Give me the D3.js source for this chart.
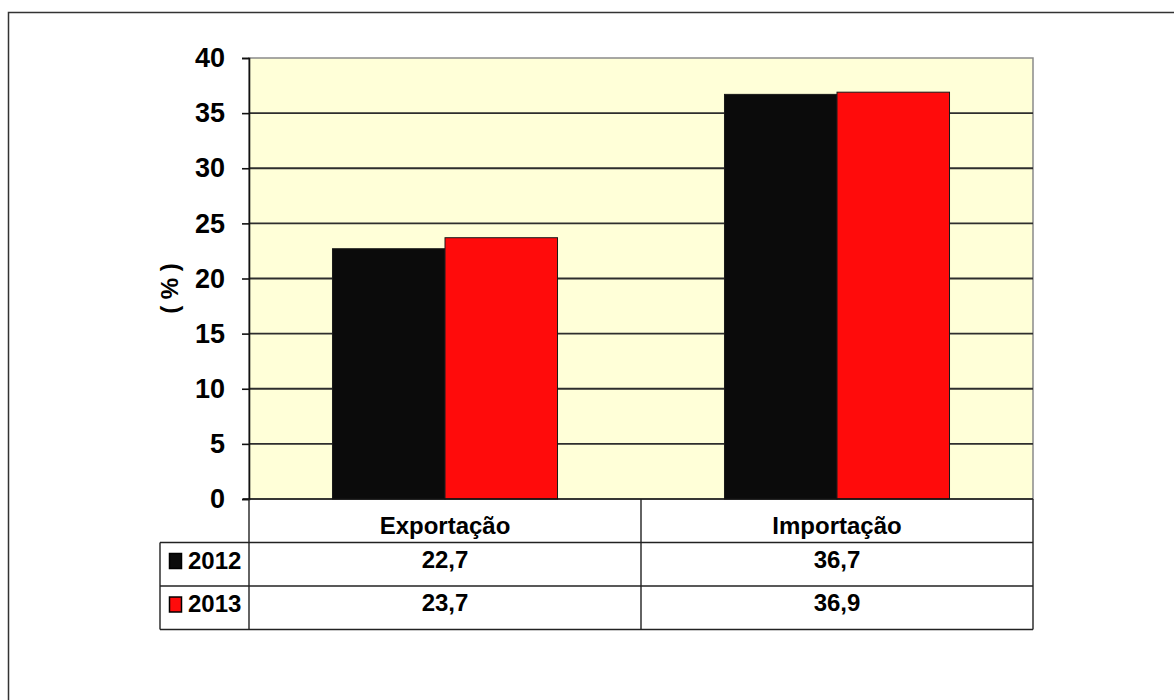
<!DOCTYPE html>
<html>
<head>
<meta charset="utf-8">
<script src="https://cdn.jsdelivr.net/npm/d3@7"></script>
<style>
  body { margin: 0; background: #fff; }
  svg text { font-family: "Liberation Sans", Arial, sans-serif; font-weight: bold; fill: #000; }
</style>
</head>
<body>
<svg width="1174" height="700"></svg>
<script>
// categorias e séries
let categories = ['Exportação', 'Importação']
let years = ['2012', '2013']
let values2012 = [22.7, 36.7]
let values2013 = [23.7, 36.9]
let yTicks = [0, 5, 10, 15, 20, 25, 30, 35, 40]
let colors = ['#0b0b0b', '#ff0b0b']

let series = [values2012, values2013]

let svg = d3.select('svg')
let plotLeft = 249, plotRight = 1033, plotTop = 58, plotBottom = 499
let rowH = 43.5

let ptBR = d3.formatLocale({decimal: ',', thousands: '.', grouping: [3], currency: ['R$', '']})
let fmt = ptBR.format('.1f')

// moldura externa
svg.append('rect')
  .attr('x', 8.5).attr('y', 12.5)
  .attr('width', 1200).attr('height', 720)
  .attr('fill', 'none').attr('stroke', '#333').attr('stroke-width', 1.5)

let x0 = d3.scaleBand().domain(categories).range([plotLeft, plotRight])
let x1 = d3.scaleBand().domain(years).range([0, x0.bandwidth()]).paddingOuter(0.742)
let y = d3.scaleLinear().domain([0, 40]).range([plotBottom, plotTop])

// fundo da área do gráfico
svg.append('rect')
  .attr('x', plotLeft).attr('y', plotTop)
  .attr('width', plotRight - plotLeft).attr('height', plotBottom - plotTop)
  .attr('fill', '#ffffd8').attr('stroke', '#8a8a8a').attr('stroke-width', 1.5)

// linhas de grade
svg.append('g').selectAll('line')
  .data(yTicks.filter(d => d > 0 && d < 40))
  .enter().append('line')
    .attr('x1', plotLeft).attr('x2', plotRight)
    .attr('y1', d => y(d)).attr('y2', d => y(d))
    .attr('stroke', '#2e2e2e').attr('stroke-width', 1.8)

// barras
let groups = svg.append('g').selectAll('g')
  .data(years)
  .enter().append('g')

groups.selectAll('rect')
  .data((yr, i) => categories.map((c, j) => ({cat: c, year: yr, value: series[i][j], i})))
  .enter().append('rect')
    .attr('x', d => x0(d.cat) + x1(d.year))
    .attr('y', d => y(d.value))
    .attr('width', x1.bandwidth())
    .attr('height', d => y(0) - y(d.value))
    .attr('fill', d => colors[d.i])
    .attr('stroke', '#1a1a1a').attr('stroke-width', 1)

// eixo Y
let yAxis = d3.axisLeft(y).tickValues(yTicks).tickSize(7).tickPadding(17)
let ya = svg.append('g')
  .attr('transform', 'translate(' + plotLeft + ',0)')
  .call(yAxis)
ya.select('.domain').attr('stroke', '#111').attr('stroke-width', 1.6)
ya.selectAll('.tick line').attr('stroke', '#111').attr('stroke-width', 1.6)
ya.selectAll('.tick text')
  .style('font-size', '27px')
  .style('font-family', '"Liberation Sans", Arial, sans-serif')
  .style('font-weight', 'bold')
  .attr('fill', '#000')

// eixo X
svg.append('line')
  .attr('x1', plotLeft - 6).attr('x2', plotRight)
  .attr('y1', plotBottom).attr('y2', plotBottom)
  .attr('stroke', '#111').attr('stroke-width', 1.6)

svg.append('text')
  .attr('transform', 'translate(170,' + ((plotTop + plotBottom) / 2 + 10) + ') rotate(-90)')
  .attr('text-anchor', 'middle')
  .attr('dy', '0.35em')
  .style('font-size', '24px')
  .text('( % )')

// tabela de dados
let tableLeft = 160
let tb = svg.append('g').attr('stroke', '#222').attr('stroke-width', 1.4)
// linhas horizontais
;[plotBottom + rowH, plotBottom + rowH * 2, plotBottom + rowH * 3].forEach(yy => {
  tb.append('line').attr('x1', tableLeft).attr('x2', plotRight).attr('y1', yy).attr('y2', yy)
})
// linhas verticais
tb.append('line').attr('x1', tableLeft).attr('x2', tableLeft).attr('y1', plotBottom + rowH).attr('y2', plotBottom + rowH * 3)
tb.append('line').attr('x1', plotLeft).attr('x2', plotLeft).attr('y1', plotBottom).attr('y2', plotBottom + rowH * 3)
categories.forEach(c => {
  let xx = x0(c) + x0.bandwidth()
  tb.append('line').attr('x1', xx).attr('x2', xx).attr('y1', plotBottom).attr('y2', plotBottom + rowH * 3)
})

// cabeçalhos das categorias
svg.append('g').selectAll('text')
  .data(categories)
  .enter().append('text')
    .attr('x', d => x0(d) + x0.bandwidth() / 2)
    .attr('y', plotBottom + 35)
    .attr('text-anchor', 'middle')
    .style('font-size', '24px')
    .text(d => d)

// linhas de valores
years.forEach((yr, i) => {
  let rowY = plotBottom + rowH * (i + 1)
  svg.append('rect')
    .attr('x', 169.5).attr('y', rowY + 11)
    .attr('width', 12).attr('height', 15)
    .attr('fill', colors[i]).attr('stroke', '#000').attr('stroke-width', 1.5)
  svg.append('text')
    .attr('x', 188).attr('y', rowY + 26)
    .style('font-size', '24px')
    .text(yr)
  svg.append('g').selectAll('text')
    .data(series[i])
    .enter().append('text')
      .attr('x', (d, j) => x0(categories[j]) + x0.bandwidth() / 2)
      .attr('y', rowY + 25)
      .attr('text-anchor', 'middle')
      .style('font-size', '24px')
      .text(d => fmt(d))
})
</script>
</body>
</html>
